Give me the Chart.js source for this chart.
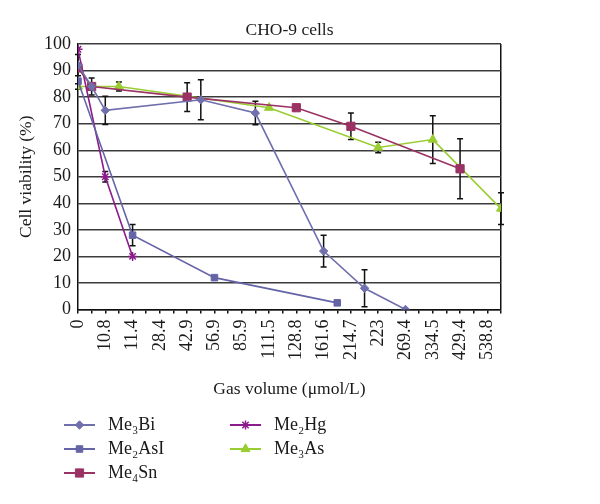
<!DOCTYPE html>
<html>
<head>
<meta charset="utf-8">
<title>CHO-9 cells</title>
<script src="https://cdn.jsdelivr.net/npm/chart.js@4.4.0/dist/chart.umd.min.js"></script>
<style>
  html, body { margin: 0; padding: 0; background: #fff; }
</style>
</head>
<body>
<canvas id="chart" width="600" height="504"></canvas>
<script>
// Gas volume categories (only every other one carries a label on the axis)
const xLabels = ['0', '', '10.8', '', '11.4', '', '28.4', '', '42.9', '', '56.9', '', '85.9', '',
  '111.5', '', '128.8', '', '161.6', '', '214.7', '', '223', '', '269.4', '', '334.5', '',
  '429.4', '', '538.8', ''];

// Each series: category index, cell viability (%), error (+/-)
const biIdx = [0, 1, 2, 9, 13, 18, 21, 24];
const biVal = [92, 84, 75, 79, 74, 22, 8, 0];
const biErr = [4, 0, 5.3, 7.5, 4.4, 6, 7, 0];

const asiIdx = [0, 4, 10, 19];
const asiVal = [86, 28, 12, 2.5];
const asiErr = [0, 4, 0, 0];

const snIdx = [0, 1, 8, 16, 20, 28];
const snVal = [91, 84, 80, 76, 69, 53];
const snErr = [0, 3.2, 5.4, 1, 5, 11.3];

const hgIdx = [0, 2, 4];
const hgVal = [98, 50, 20];
const hgErr = [0, 2, 0];

const asIdx = [0, 3, 14, 22, 26, 31];
const asVal = [84, 84, 76, 61, 64, 38];
const asErr = [1, 1.7, 0, 2, 9, 6];

const yTicks = [0, 10, 20, 30, 40, 50, 60, 70, 80, 90, 100];

function points(idx, val, err) {
  return idx.map((x, i) => ({ x: x, y: val[i], err: err[i] }));
}

Chart.defaults.font.family = '"Liberation Serif", "Times New Roman", serif';
Chart.defaults.color = '#1a1a1a';

// black error bars, drawn under the markers
const errorBars = {
  id: 'errorBars',
  beforeDatasetsDraw(chart) {
    const ctx = chart.ctx;
    const xs = chart.scales.x, ys = chart.scales.y;
    ctx.save();
    ctx.strokeStyle = '#111';
    ctx.lineWidth = 1.5;
    chart.data.datasets.forEach(ds => {
      ds.data.forEach(p => {
        if (!p.err) return;
        const x = xs.getPixelForValue(p.x);
        const top = ys.getPixelForValue(Math.min(100, p.y + p.err));
        const bot = ys.getPixelForValue(Math.max(0, p.y - p.err));
        ctx.beginPath();
        ctx.moveTo(x, top); ctx.lineTo(x, bot);
        ctx.moveTo(x - 3, top); ctx.lineTo(x + 3, top);
        ctx.moveTo(x - 3, bot); ctx.lineTo(x + 3, bot);
        ctx.stroke();
      });
    });
    ctx.restore();
  }
};

// two column legend under the axis, like the Excel original
const columnLegend = {
  id: 'columnLegend',
  afterDraw(chart) {
    const ctx = chart.ctx;
    const colX = [64, 230];
    const rowY = [425, 449, 473];
    const layout = [[0, 0], [0, 1], [0, 2], [1, 0], [1, 1]];
    ctx.save();
    chart.data.datasets.forEach((ds, i) => {
      const x = colX[layout[i][0]];
      const y = rowY[layout[i][1]];
      ctx.strokeStyle = ds.borderColor;
      ctx.lineWidth = 2;
      ctx.beginPath();
      ctx.moveTo(x, y); ctx.lineTo(x + 31, y);
      ctx.stroke();
      ctx.fillStyle = ds.pointBackgroundColor;
      ctx.strokeStyle = ds.pointBorderColor;
      ctx.lineWidth = ds.pointBorderWidth;
      Chart.helpers.drawPoint(ctx, {
        pointStyle: ds.pointStyle, radius: ds.pointRadius, borderWidth: ds.pointBorderWidth, rotation: 0
      }, x + 15.5, y);
      ctx.fillStyle = '#1a1a1a';
      ctx.font = '18px "Liberation Serif", serif';
      ctx.textBaseline = 'middle';
      ctx.fillText(ds.label, x + 44, y);
    });
    ctx.restore();
  }
};

function series(label, color, style, radius, data) {
  return {
    label: label,
    data: data,
    borderColor: color,
    backgroundColor: color,
    borderWidth: 1.6,
    pointStyle: style,
    pointRadius: radius,
    pointHoverRadius: radius,
    pointBackgroundColor: color,
    pointBorderColor: color,
    pointBorderWidth: 1,
    tension: 0
  };
}

const hg = series('Me₂Hg', '#8B1C8B', 'star', 4.5, points(hgIdx, hgVal, hgErr));
hg.pointBorderWidth = 1.5;

new Chart(document.getElementById('chart'), {
  type: 'line',
  data: {
    datasets: [
      series('Me₃Bi', '#6F6FAD', 'rectRot', 4.2, points(biIdx, biVal, biErr)),
      series('Me₂AsI', '#6464A6', 'rect', 4.6, points(asiIdx, asiVal, asiErr)),
      series('Me₄Sn', '#9A3264', 'rect', 5.8, points(snIdx, snVal, snErr)),
      hg,
      series('Me₃As', '#9ACD32', 'triangle', 5.2, points(asIdx, asVal, asErr))
    ]
  },
  options: {
    responsive: false,
    animation: false,
    layout: { padding: { left: 0, right: 99, top: 0, bottom: 104 } },
    plugins: {
      legend: { display: false },
      tooltip: { enabled: false },
      title: {
        display: true,
        text: 'CHO-9 cells',
        fullSize: false,
        font: { size: 17.5, weight: 'normal' },
        color: '#1a1a1a',
        padding: { top: 20, bottom: 3 }
      }
    },
    scales: {
      x: {
        type: 'linear',
        min: 0,
        max: xLabels.length - 1,
        grid: {
          color: c => (c.tick && c.tick.value === xLabels.length - 1) ? '#111' : 'rgba(0,0,0,0)',
          tickColor: '#111',
          lineWidth: 1.5,
          tickLength: 4,
          drawTicks: true
        },
        border: { color: '#111', width: 1.5 },
        ticks: {
          stepSize: 1,
          autoSkip: false,
          minRotation: 90,
          maxRotation: 90,
          padding: 6,
          font: { size: 18 },
          color: '#1a1a1a',
          callback: v => xLabels[Math.round(v)]
        },
        title: {
          display: true,
          text: 'Gas volume (μmol/L)',
          font: { size: 17.5 },
          color: '#1a1a1a',
          padding: { top: 13, bottom: 0 }
        }
      },
      y: {
        min: 0,
        max: 100,
        afterBuildTicks: axis => { axis.ticks = yTicks.map(v => ({ value: v })); },
        grid: { color: '#3c3c3c', lineWidth: 1.4, drawTicks: false },
        border: { color: '#111', width: 1.5 },
        ticks: { padding: 7, font: { size: 18 }, color: '#1a1a1a' },
        title: {
          display: true,
          text: 'Cell viability (%)',
          font: { size: 17.5 },
          color: '#1a1a1a',
          padding: { top: 16, bottom: 0 }
        }
      }
    }
  },
  plugins: [errorBars, columnLegend]
});
</script>
</body>
</html>
